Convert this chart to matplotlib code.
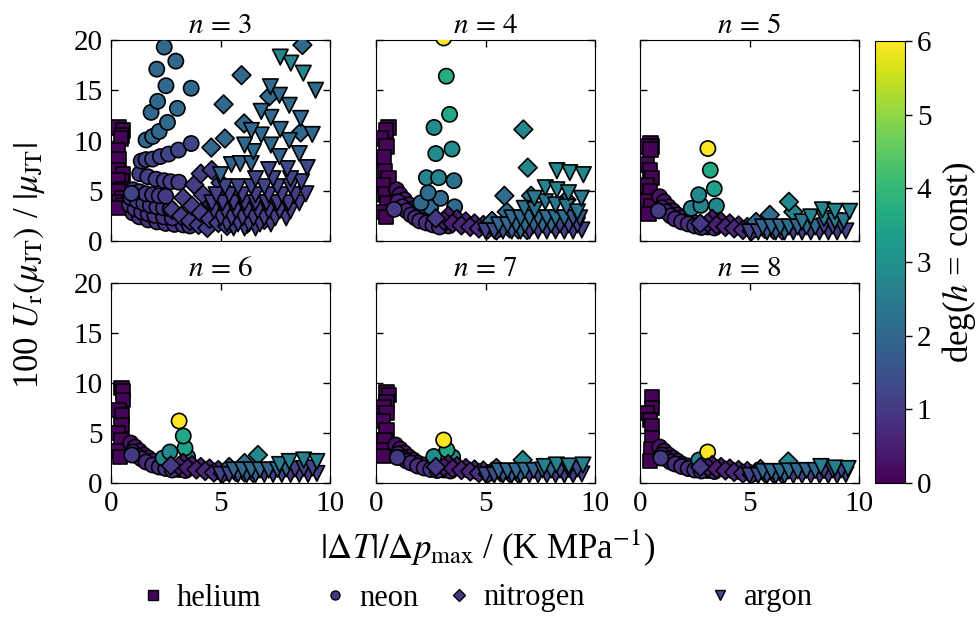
import matplotlib
matplotlib.use("Agg")
import matplotlib.pyplot as plt
from matplotlib.colors import Normalize
from matplotlib.lines import Line2D
from matplotlib.cm import ScalarMappable

plt.rcParams['font.family'] = 'serif'
plt.rcParams['font.serif'] = ['Liberation Serif', 'DejaVu Serif']
plt.rcParams['mathtext.fontset'] = 'stix'

# data: (x, y, deg) per gas and per n
he3 = [(0.35, 11.3, 0.05), (0.55, 11.0, 0.05), (0.5, 10.5, 0.05), (0.45, 10.2, 0.05),
       (0.3, 9.0, 0.05), (0.35, 8.1, 0.05), (0.3, 7.0, 0.05), (0.55, 6.6, 0.05),
       (0.5, 5.9, 0.05), (0.3, 6.0, 0.05), (0.45, 5.1, 0.05), (0.3, 4.9, 0.05),
       (0.5, 4.25, 0.05), (0.4, 3.9, 0.05), (0.55, 3.6, 0.05), (0.35, 3.3, 0.05)]
ne3 = [(1.0, 2.8, 0.9), (1.3, 2.4, 0.9), (1.7, 2.1, 0.9), (2.1, 1.9, 0.9), (2.5, 1.75, 0.9),
       (2.9, 1.65, 0.9), (3.3, 1.6, 0.9), (3.6, 1.5, 0.9),
       (0.85, 3.6, 0.9), (1.1, 3.2, 0.9), (1.4, 2.9, 0.9), (1.7, 2.7, 0.9), (2.0, 2.55, 0.9),
       (2.4, 2.4, 0.9), (2.8, 2.3, 0.9),
       (0.9, 4.3, 1.0), (1.2, 4.0, 1.0), (1.5, 3.75, 1.0), (1.8, 3.55, 1.0), (2.1, 3.4, 1.0),
       (2.4, 3.3, 1.0), (2.7, 3.2, 1.0),
       (1.0, 5.1, 1.0), (1.3, 4.9, 1.0), (1.6, 4.7, 1.0), (1.9, 4.6, 1.0), (2.2, 4.5, 1.0),
       (2.5, 4.45, 1.0), (0.93, 4.75, 1.2),
       (1.31, 6.7, 1.1), (1.68, 6.4, 1.1), (2.06, 6.15, 1.1), (2.43, 6.0, 1.1), (2.73, 5.9, 1.1),
       (3.1, 5.85, 1.1),
       (1.38, 7.95, 1.2), (1.6, 8.1, 1.2), (1.9, 8.15, 1.2), (2.25, 8.4, 1.2), (2.63, 8.65, 1.2),
       (3.08, 9.05, 1.2), (3.66, 9.7, 1.2),
       (1.6, 10.05, 2.0), (1.9, 10.4, 2.0), (2.2, 10.9, 2.0), (2.58, 11.8, 2.0), (1.83, 12.8, 2.0),
       (3.03, 13.2, 2.0), (2.13, 13.9, 2.0), (3.66, 15.2, 2.0), (2.51, 15.45, 2.0),
       (2.09, 17.1, 2.0), (2.96, 17.9, 2.0), (2.43, 19.3, 2.0)]
n2_3 = [(2.8, 3.1, 1.1), (3.2, 2.5, 1.1), (3.6, 2.0, 1.1), (4.0, 1.6, 1.1), (4.4, 1.3, 1.1),
        (3.3, 4.3, 1.1), (3.7, 3.5, 1.1), (4.1, 2.8, 1.1), (4.5, 2.2, 1.1), (4.9, 1.8, 1.1),
        (5.3, 1.5, 1.1), (3.8, 5.6, 1.1), (4.2, 4.6, 1.1), (4.6, 3.7, 1.1), (5.0, 3.0, 1.1),
        (5.4, 2.4, 1.1), (5.8, 2.0, 1.1), (6.2, 1.7, 1.1), (4.1, 6.7, 1.1), (4.6, 7.05, 1.1),
        (5.0, 5.8, 1.1), (5.4, 4.7, 1.1), (5.8, 3.8, 1.1), (6.2, 3.1, 1.1), (6.6, 2.5, 1.1),
        (7.0, 2.1, 1.1),
        (4.58, 9.3, 2.0), (5.2, 10.2, 2.0), (6.08, 11.7, 2.0), (8.66, 10.8, 2.0), (5.14, 13.6, 2.0),
        (7.23, 14.4, 2.0), (5.96, 16.5, 2.0), (8.74, 19.5, 2.0)]
ar3 = [(5.6, 1.3, 1.1), (6.1, 1.3, 1.1), (6.6, 1.3, 1.1),
       (5.3, 1.7, 1.1), (5.8, 1.7, 1.1), (6.3, 1.7, 1.1), (6.8, 1.7, 1.1), (7.3, 1.7, 1.1),
       (5.0, 2.3, 1.1), (5.5, 2.3, 1.1), (6.0, 2.3, 1.1), (6.5, 2.3, 1.1), (7.0, 2.3, 1.1),
       (7.5, 2.3, 1.1), (8.0, 2.3, 1.1),
       (4.7, 3.0, 1.1), (5.2, 3.0, 1.1), (5.7, 3.0, 1.1), (6.2, 3.0, 1.1), (6.7, 3.0, 1.1),
       (7.2, 3.0, 1.1), (7.7, 3.0, 1.1), (8.2, 3.0, 1.1),
       (4.6, 3.8, 1.1), (5.1, 3.8, 1.1), (5.6, 3.8, 1.1), (6.1, 3.8, 1.1), (6.6, 3.8, 1.1),
       (7.1, 3.8, 1.1), (7.6, 3.8, 1.1), (8.1, 3.8, 1.1), (8.6, 3.8, 1.1),
       (4.8, 4.6, 1.1), (5.4, 4.6, 1.1), (6.0, 4.6, 1.1), (6.6, 4.6, 1.1), (7.2, 4.6, 1.1),
       (7.8, 4.6, 1.1), (8.4, 4.6, 1.1), (8.9, 4.7, 1.1),
       (5.2, 5.4, 1.2), (5.8, 5.4, 1.2), (6.4, 5.4, 1.2), (7.0, 5.4, 1.2), (7.6, 5.4, 1.2),
       (8.2, 5.4, 1.2), (8.7, 5.9, 1.2),
       (6.6, 6.2, 1.2), (7.4, 6.2, 1.2), (8.2, 6.2, 1.2),
       (7.2, 7.1, 1.3), (8.05, 7.2, 1.3), (8.96, 7.3, 1.3),
       (5.0, 6.6, 1.9), (5.5, 7.6, 1.9), (5.9, 7.7, 1.9), (6.4, 7.7, 1.9), (6.5, 8.9, 2.0),
       (6.1, 9.55, 2.0), (7.3, 9.55, 2.0), (7.69, 8.4, 1.9), (8.6, 8.7, 1.9), (8.14, 10.0, 2.0),
       (6.86, 10.55, 2.0), (6.41, 11.0, 2.0), (7.73, 11.1, 2.0), (9.19, 10.6, 2.0),
       (7.3, 12.3, 2.0), (8.66, 12.2, 2.0), (6.86, 12.9, 2.0), (8.14, 13.5, 2.0),
       (7.69, 14.5, 2.0), (7.28, 15.35, 2.0), (9.34, 15.0, 2.1),
       (8.78, 16.7, 2.7), (8.21, 17.7, 2.7), (7.73, 18.3, 2.7)]

he4 = [(0.56, 11.3, 0.05), (0.45, 11.0, 0.05), (0.2, 10.2, 0.05), (0.48, 9.4, 0.05),
       (0.37, 8.3, 0.05), (0.41, 6.9, 0.05), (0.56, 6.2, 0.05), (0.3, 5.5, 0.05),
       (0.41, 4.6, 0.05), (0.5, 3.8, 0.05), (0.33, 2.9, 0.05), (0.45, 2.4, 0.05)]
ne4 = [(0.94, 5.1, 0.3), (1.1, 4.6, 0.3), (1.3, 4.1, 0.4), (1.5, 3.6, 0.4), (1.7, 3.2, 0.5),
       (1.9, 2.8, 0.5), (2.1, 2.5, 0.6), (2.4, 2.2, 0.6), (2.7, 1.9, 0.7), (3.0, 1.7, 0.7),
       (3.3, 1.5, 0.8), (1.0, 3.9, 0.5), (1.2, 3.4, 0.6), (1.4, 3.0, 0.6), (1.6, 2.6, 0.7),
       (1.8, 2.3, 0.7), (2.0, 2.0, 0.8), (2.3, 1.8, 0.8), (2.6, 1.6, 0.9), (2.9, 1.4, 0.9),
       (0.83, 3.15, 1.0),
       (2.5, 3.35, 2.0), (2.05, 3.8, 2.0), (3.59, 3.4, 2.0), (2.95, 4.25, 2.0), (2.38, 4.8, 2.1),
       (3.56, 6.0, 2.2), (2.30, 6.3, 2.7), (2.86, 6.3, 2.7), (2.73, 8.7, 2.9), (3.47, 9.15, 2.9),
       (2.65, 11.3, 2.9), (3.36, 12.6, 3.6), (3.21, 16.4, 3.7), (3.09, 20.2, 6.0)]
n2_4 = [(3.3, 2.5, 0.4), (3.7, 2.2, 0.5), (4.1, 1.95, 0.6), (4.5, 1.75, 0.7), (4.9, 1.6, 0.8),
        (5.3, 1.45, 1.0), (5.7, 1.35, 1.2), (6.1, 1.25, 1.5), (6.5, 1.15, 1.7), (6.9, 1.1, 1.9),
        (3.1, 2.0, 0.5), (3.5, 1.75, 0.5), (3.9, 1.55, 0.6), (4.3, 1.4, 0.7), (4.7, 1.25, 0.8),
        (5.1, 1.15, 0.9), (5.5, 1.05, 1.0), (2.73, 2.25, 1.0),
        (5.3, 2.0, 2.0), (5.97, 2.9, 2.1), (5.86, 4.5, 2.1), (7.08, 4.5, 2.3), (8.7, 4.1, 2.2),
        (6.93, 7.3, 2.8), (6.73, 11.1, 2.8)]
ar4 = [(5.0, 1.0, 1.2), (5.4, 1.0, 1.4), (5.8, 1.0, 1.6), (6.2, 1.0, 1.7), (6.6, 1.0, 1.9),
       (7.0, 1.0, 1.0), (7.4, 1.0, 1.1), (7.8, 1.0, 1.2), (8.2, 1.0, 1.0), (8.6, 1.0, 1.1),
       (9.0, 1.0, 1.0), (9.4, 1.1, 1.2),
       (5.6, 1.6, 1.9), (6.0, 1.6, 2.0), (6.4, 1.6, 2.0), (6.8, 1.6, 2.1), (7.2, 1.6, 1.9),
       (7.6, 1.6, 2.0), (8.0, 1.6, 2.0), (8.4, 1.6, 1.2), (8.8, 1.6, 1.3), (9.2, 1.6, 1.3),
       (6.2, 2.3, 2.0), (6.6, 2.3, 2.0), (7.0, 2.3, 2.1), (7.4, 2.3, 2.1), (7.8, 2.3, 2.1),
       (8.2, 2.3, 2.2), (8.6, 2.3, 2.2), (9.0, 2.3, 1.5), (9.3, 2.3, 1.5),
       (6.77, 3.25, 2.2), (7.25, 3.1, 2.2), (7.73, 3.9, 2.3), (8.2, 3.6, 2.3), (8.7, 3.4, 2.3),
       (9.2, 2.9, 2.3), (7.23, 4.25, 2.4), (9.38, 4.25, 2.4), (7.73, 5.3, 2.7), (8.26, 5.1, 2.7),
       (8.79, 4.8, 2.6), (8.26, 7.0, 2.8), (8.85, 6.8, 2.8), (9.47, 6.6, 2.8)]

he5 = [(0.49, 9.7, 0.05), (0.55, 9.4, 0.05), (0.23, 9.4, 0.05), (0.49, 9.1, 0.05),
       (0.31, 7.6, 0.05), (0.45, 7.0, 0.05), (0.54, 6.25, 0.05), (0.3, 5.5, 0.05),
       (0.46, 4.95, 0.05), (0.23, 4.0, 0.05), (0.5, 3.5, 0.05), (0.38, 2.7, 0.05)]
ne5 = [(0.9, 4.4, 0.3), (1.1, 3.9, 0.3), (1.3, 3.4, 0.4), (1.5, 3.0, 0.4), (1.7, 2.6, 0.5),
       (1.9, 2.3, 0.5), (2.2, 2.0, 0.6), (2.5, 1.8, 0.7), (2.8, 1.6, 0.7), (3.1, 1.4, 0.8),
       (3.4, 1.3, 0.8), (1.0, 3.3, 0.6), (1.2, 2.9, 0.6), (1.4, 2.5, 0.7), (1.6, 2.2, 0.7),
       (1.9, 1.9, 0.8), (2.2, 1.7, 0.8), (2.5, 1.5, 0.9), (2.8, 1.35, 0.9), (0.84, 3.0, 1.0),
       (2.34, 3.25, 2.6), (2.78, 3.55, 2.7), (3.49, 3.5, 2.8), (2.68, 4.6, 2.8),
       (3.39, 5.2, 3.4), (3.21, 7.05, 3.6), (3.1, 9.2, 6.0)]
n2_5 = [(3.3, 2.2, 0.4), (3.7, 1.95, 0.5), (4.1, 1.75, 0.6), (4.5, 1.55, 0.7), (4.9, 1.4, 0.8),
        (5.3, 1.3, 1.0), (5.7, 1.2, 1.2), (6.1, 1.1, 1.5), (6.5, 1.05, 1.7),
        (3.1, 1.8, 0.5), (3.5, 1.6, 0.5), (3.9, 1.4, 0.6), (4.3, 1.25, 0.7), (4.7, 1.1, 0.8),
        (5.1, 1.0, 0.9), (2.75, 1.75, 1.0),
        (5.3, 1.9, 2.0), (5.93, 2.6, 2.1), (7.0, 2.9, 2.7), (6.8, 3.9, 2.8)]
ar5 = [(5.0, 0.9, 1.2), (5.4, 0.9, 1.4), (5.8, 0.9, 1.6), (6.2, 0.9, 1.7), (6.6, 0.9, 1.9),
       (7.0, 0.9, 1.0), (7.4, 0.9, 1.1), (7.8, 0.9, 1.2), (8.2, 0.9, 1.0), (8.6, 0.9, 1.1),
       (9.0, 0.9, 1.0), (9.4, 1.0, 1.2),
       (5.6, 1.4, 1.9), (6.0, 1.4, 2.0), (6.4, 1.4, 2.0), (6.8, 1.4, 2.1), (7.2, 1.4, 1.9),
       (7.6, 1.4, 2.0), (8.0, 1.4, 2.0), (8.4, 1.5, 1.2), (8.8, 1.5, 1.3), (9.2, 1.6, 1.3),
       (7.4, 1.9, 2.3), (7.8, 2.4, 2.6), (8.4, 2.25, 2.6), (8.9, 2.0, 2.4), (9.3, 2.0, 2.4),
       (8.33, 3.1, 2.7), (8.9, 2.95, 2.7), (9.57, 2.95, 2.7)]

he6 = [(0.48, 9.5, 0.05), (0.55, 9.2, 0.05), (0.55, 8.3, 0.05), (0.34, 7.3, 0.05),
       (0.5, 6.8, 0.05), (0.48, 5.8, 0.05), (0.3, 5.0, 0.05), (0.48, 4.3, 0.05),
       (0.34, 3.2, 0.05), (0.41, 2.6, 0.05)]
ne6 = [(0.9, 4.0, 0.3), (1.1, 3.6, 0.3), (1.3, 3.2, 0.4), (1.5, 2.8, 0.4), (1.7, 2.5, 0.5),
       (1.9, 2.2, 0.5), (2.2, 1.9, 0.6), (2.5, 1.7, 0.7), (2.8, 1.5, 0.7), (3.1, 1.35, 0.8),
       (3.4, 1.25, 0.8), (1.0, 3.1, 0.6), (1.2, 2.7, 0.6), (1.4, 2.4, 0.7), (1.6, 2.1, 0.7),
       (1.9, 1.8, 0.8), (2.2, 1.6, 0.8), (2.5, 1.45, 0.9), (2.8, 1.3, 0.9), (0.95, 2.8, 1.0),
       (2.38, 2.5, 2.6), (2.69, 3.1, 2.8), (3.5, 2.6, 2.9), (3.38, 3.5, 3.4),
       (3.3, 4.7, 3.6), (3.11, 6.2, 6.0)]
n2_6 = [(3.3, 2.0, 0.4), (3.7, 1.8, 0.5), (4.1, 1.6, 0.6), (4.5, 1.45, 0.7), (4.9, 1.3, 0.8),
        (5.3, 1.2, 1.0), (5.7, 1.1, 1.2), (6.1, 1.05, 1.5), (6.5, 1.0, 1.7),
        (3.1, 1.7, 0.5), (3.5, 1.5, 0.5), (3.9, 1.35, 0.6), (4.3, 1.2, 0.7), (4.7, 1.05, 0.8),
        (5.1, 0.95, 0.9), (2.73, 1.75, 1.0),
        (5.4, 1.6, 2.0), (6.1, 2.0, 2.2), (6.71, 2.8, 2.8)]
ar6 = [(5.0, 0.85, 1.2), (5.4, 0.85, 1.4), (5.8, 0.85, 1.6), (6.2, 0.85, 1.7), (6.6, 0.85, 1.9),
       (7.0, 0.85, 1.0), (7.4, 0.85, 1.1), (7.8, 0.85, 1.2), (8.2, 0.85, 1.0), (8.6, 0.85, 1.1),
       (9.0, 0.85, 1.0), (9.4, 0.95, 1.2),
       (5.6, 1.3, 1.9), (6.0, 1.3, 2.0), (6.4, 1.3, 2.0), (6.8, 1.3, 2.1), (7.2, 1.3, 1.9),
       (7.6, 1.35, 2.0), (8.0, 1.4, 2.0), (8.4, 1.4, 1.2), (8.8, 1.45, 1.3), (9.2, 1.5, 1.3),
       (7.7, 1.85, 2.5), (8.14, 2.15, 2.6), (8.8, 2.3, 2.6), (9.4, 2.15, 2.6)]

he7 = [(0.48, 9.1, 0.05), (0.6, 8.8, 0.05), (0.48, 8.1, 0.05), (0.35, 7.6, 0.05),
       (0.48, 7.0, 0.05), (0.3, 6.2, 0.05), (0.48, 5.3, 0.05), (0.4, 4.3, 0.05),
       (0.35, 3.3, 0.05), (0.35, 2.7, 0.05)]
ne7 = [(0.9, 3.8, 0.3), (1.1, 3.4, 0.3), (1.3, 3.0, 0.4), (1.5, 2.6, 0.4), (1.7, 2.3, 0.5),
       (1.9, 2.0, 0.5), (2.2, 1.8, 0.6), (2.5, 1.6, 0.7), (2.8, 1.4, 0.7), (3.1, 1.3, 0.8),
       (3.4, 1.2, 0.8), (1.0, 2.9, 0.6), (1.2, 2.5, 0.6), (1.4, 2.2, 0.7), (1.6, 2.0, 0.7),
       (1.9, 1.7, 0.8), (2.2, 1.5, 0.8), (2.5, 1.35, 0.9), (2.8, 1.25, 0.9), (0.97, 2.55, 1.0),
       (2.64, 2.65, 2.9), (3.5, 2.6, 2.9), (3.24, 3.3, 3.6), (3.09, 4.3, 6.0)]
n2_7 = [(3.3, 1.9, 0.4), (3.7, 1.7, 0.5), (4.1, 1.5, 0.6), (4.5, 1.35, 0.7), (4.9, 1.25, 0.8),
        (5.3, 1.15, 1.0), (5.7, 1.05, 1.2), (6.1, 1.0, 1.5), (6.5, 0.95, 1.7),
        (3.1, 1.6, 0.5), (3.5, 1.45, 0.5), (3.9, 1.3, 0.6), (4.3, 1.15, 0.7), (4.7, 1.0, 0.8),
        (5.1, 0.9, 0.9), (2.73, 1.6, 1.0),
        (5.5, 1.5, 2.0), (6.7, 2.3, 2.8)]
ar7 = [(5.0, 0.8, 1.2), (5.4, 0.8, 1.4), (5.8, 0.8, 1.6), (6.2, 0.8, 1.7), (6.6, 0.8, 1.9),
       (7.0, 0.8, 1.0), (7.4, 0.8, 1.1), (7.8, 0.8, 1.2), (8.2, 0.8, 1.0), (8.6, 0.8, 1.1),
       (9.0, 0.8, 1.0), (9.4, 0.9, 1.2),
       (5.6, 1.2, 1.9), (6.0, 1.2, 2.0), (6.4, 1.2, 2.0), (6.8, 1.25, 2.1), (7.2, 1.25, 1.9),
       (7.6, 1.3, 2.0), (8.0, 1.3, 2.0), (8.4, 1.3, 1.2), (8.8, 1.35, 1.3), (9.2, 1.4, 1.3),
       (7.68, 1.65, 2.6), (8.24, 1.8, 2.6), (8.8, 1.7, 2.6), (9.45, 1.8, 2.6)]

he8 = [(0.54, 8.6, 0.05), (0.54, 7.5, 0.05), (0.3, 7.0, 0.05), (0.46, 6.3, 0.05),
       (0.54, 5.7, 0.05), (0.54, 4.5, 0.05), (0.5, 3.4, 0.05), (0.45, 2.2, 0.05)]
ne8 = [(0.9, 3.6, 0.3), (1.1, 3.2, 0.3), (1.3, 2.8, 0.4), (1.5, 2.5, 0.4), (1.7, 2.2, 0.5),
       (1.9, 1.9, 0.5), (2.2, 1.7, 0.6), (2.5, 1.5, 0.7), (2.8, 1.35, 0.7), (3.1, 1.25, 0.8),
       (3.4, 1.15, 0.8), (1.0, 2.8, 0.6), (1.2, 2.4, 0.6), (1.4, 2.1, 0.7), (1.6, 1.9, 0.7),
       (1.9, 1.65, 0.8), (2.2, 1.45, 0.8), (2.5, 1.3, 0.9), (2.8, 1.2, 0.9), (0.95, 2.5, 1.0),
       (2.69, 2.3, 2.8), (3.09, 3.1, 6.0)]
n2_8 = [(3.3, 1.8, 0.4), (3.7, 1.6, 0.5), (4.1, 1.45, 0.6), (4.5, 1.3, 0.7), (4.9, 1.2, 0.8),
        (5.3, 1.1, 1.0), (5.7, 1.0, 1.2), (6.1, 0.95, 1.5), (6.5, 0.9, 1.7),
        (3.1, 1.55, 0.5), (3.5, 1.4, 0.5), (3.9, 1.25, 0.6), (4.3, 1.1, 0.7), (4.7, 0.95, 0.8),
        (5.1, 0.85, 0.9), (2.75, 1.6, 1.0),
        (5.5, 1.4, 2.0), (6.77, 2.15, 2.8)]
ar8 = [(5.0, 0.75, 1.2), (5.4, 0.75, 1.4), (5.8, 0.75, 1.6), (6.2, 0.75, 1.7), (6.6, 0.75, 1.9),
       (7.0, 0.75, 1.0), (7.4, 0.75, 1.1), (7.8, 0.75, 1.2), (8.2, 0.75, 1.0), (8.6, 0.75, 1.1),
       (9.0, 0.75, 1.0), (9.4, 0.85, 1.2),
       (5.6, 1.15, 1.9), (6.0, 1.15, 2.0), (6.4, 1.15, 2.0), (6.8, 1.2, 2.1), (7.2, 1.2, 1.9),
       (7.6, 1.25, 2.0), (8.0, 1.25, 2.0), (8.4, 1.25, 1.2), (8.8, 1.3, 1.3), (9.2, 1.3, 1.3),
       (8.26, 1.65, 2.6), (8.9, 1.5, 2.6), (9.5, 1.45, 2.6)]

n_values = [3, 4, 5, 6, 7, 8]
panels = {
    3: [he3, ne3, n2_3, ar3],
    4: [he4, ne4, n2_4, ar4],
    5: [he5, ne5, n2_5, ar5],
    6: [he6, ne6, n2_6, ar6],
    7: [he7, ne7, n2_7, ar7],
    8: [he8, ne8, n2_8, ar8],
}
gases = ['helium', 'neon', 'nitrogen', 'argon']
markers = ['s', 'o', 'D', 'v']
sizes = [110, 120, 90, 125]
legend_deg = [0.05, 1.0, 1.0, 1.4]

cmap = plt.get_cmap('viridis')
norm = Normalize(vmin=0, vmax=6)

fig = plt.figure(figsize=(9.76, 6.19), dpi=100)
W, H = 976.0, 619.0
lefts = [111, 376, 640]
rows = [(40, 241), (283, 483)]
axw = 219

for k, n in enumerate(n_values):
    r, col = divmod(k, 3)
    top, bot = rows[r]
    ax = fig.add_axes([lefts[col] / W, 1 - bot / H, axw / W, (bot - top) / H])
    for g, pts in enumerate(panels[n]):
        xs = [p[0] for p in pts]
        ys = [p[1] for p in pts]
        cs = [p[2] for p in pts]
        ax.scatter(xs, ys, c=cs, cmap=cmap, norm=norm, marker=markers[g], s=sizes[g],
                   edgecolors='black', linewidths=1.2, zorder=2 + g)
    ax.set_xlim(0, 10)
    ax.set_ylim(0, 20)
    ax.set_xticks([0, 5, 10])
    ax.set_yticks([0, 5, 10, 15, 20])
    ax.tick_params(direction='in', top=True, right=True, length=5, width=1,
                   labelsize=21, pad=6)
    if col != 0:
        ax.set_yticklabels([])
    if r == 0:
        ax.set_xticklabels([])
    ax.set_title(r'$n\,=\,%d$' % n, fontsize=21, pad=5)

cax = fig.add_axes([875 / W, 1 - 483 / H, 30 / W, (483 - 41) / H])
cb = fig.colorbar(ScalarMappable(norm=norm, cmap=cmap), cax=cax)
cb.set_ticks([0, 1, 2, 3, 4, 5, 6])
cb.ax.tick_params(labelsize=21, length=5, width=1)
cb.set_label(r'deg($h$ = const)', fontsize=25, labelpad=6)

fig.text(30 / W, 1 - 266 / H, r'100 $U_\mathrm{r}(\mu_\mathrm{JT})$ / $|\mu_\mathrm{JT}|$',
         rotation=90, ha='center', va='center', fontsize=25)
fig.text(488 / W, 1 - 548 / H, r'$|\Delta T|/\Delta p_\mathrm{max}$ / (K MPa$^{-1}$)',
         ha='center', va='center', fontsize=25)

# one-entry legends along the bottom
marker_x = [151, 333, 457, 718]
for g in range(4):
    h = Line2D([], [], linestyle='None', marker=markers[g], markersize=6.5 if g != 2 else 6,
               markerfacecolor=cmap(norm(legend_deg[g])), markeredgecolor='black',
               markeredgewidth=1.0)
    fig.legend(handles=[h], labels=[gases[g]], loc='center left',
               bbox_to_anchor=((marker_x[g] - 7.5) / W, 1 - 598 / H),
               frameon=False, borderpad=0, borderaxespad=0, handlelength=0.6,
               handletextpad=0.5, fontsize=22)

fig.savefig('out.png', dpi=100)
